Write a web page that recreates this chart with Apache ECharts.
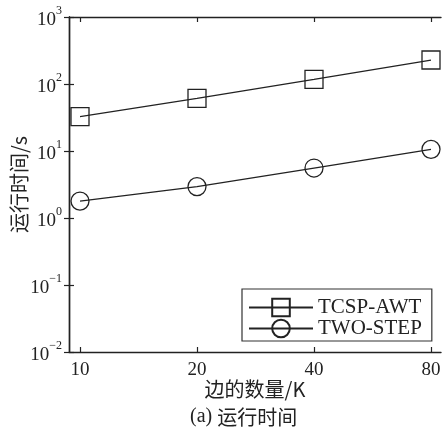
<!DOCTYPE html>
<html>
<head>
<meta charset="utf-8">
<script src="https://cdn.jsdelivr.net/npm/echarts@6/dist/echarts.min.js"></script>
<style>html,body{margin:0;padding:0;background:#fff}#c{width:442px;height:427px}</style>
</head>
<body>
<div id="c"></div>
<script>
const categories = ['10', '20', '40', '80'];
const seriesNames = ['TCSP-AWT', 'TWO-STEP'];
const tcspAwt = [32.5, 61, 117, 228];
const twoStep = [1.79, 2.94, 5.57, 10.6];
const yTicks = [0.01, 0.1, 1, 10, 100, 1000];
const xName = '边的数量/K';
const yName = '运行时间/s';
const captionTag = '(a)';
const captionText = '运行时间';

const SERIF = '"Liberation Serif", "Times New Roman", serif';
const CJK = '"Noto Sans CJK SC", sans-serif';
const INK = '#222';

const chart = echarts.init(document.getElementById('c'));
const frameLine = { show: true, lineStyle: { color: INK, width: 1.4 } };
const option = {
  animation: false,
  backgroundColor: '#fff',
  grid: [
    { left: 80, right: 11, top: 17, bottom: 75, containLabel: false, outerBoundsMode: 'none' },
    { left: 69, right: 1, top: 17, bottom: 75, containLabel: false, outerBoundsMode: 'none' }
  ],
  xAxis: [
    { gridIndex: 0, type: 'category', data: categories, boundaryGap: false,
      axisLine: { show: false },
      axisTick: { show: true, inside: true, length: 5, lineStyle: { color: INK, width: 1.2 } },
      axisLabel: { margin: 9, fontSize: 19, fontFamily: SERIF, color: '#222' },
      splitLine: { show: false } },
    { gridIndex: 0, type: 'category', data: categories, boundaryGap: false, position: 'top',
      axisLine: { show: false },
      axisTick: { show: true, inside: true, length: 5, lineStyle: { color: INK, width: 1.2 } },
      axisLabel: { show: false }, splitLine: { show: false } },
    { gridIndex: 1, type: 'value', min: 0, max: 1, position: 'bottom',
      axisLine: frameLine, axisTick: { show: false }, axisLabel: { show: false }, splitLine: { show: false },
      name: xName, nameLocation: 'middle', nameGap: 27, nameMoveOverlap: false,
      nameTextStyle: { fontSize: 20, fontFamily: CJK, color: '#222', verticalAlign: 'top' } },
    { gridIndex: 1, type: 'value', min: 0, max: 1, position: 'top',
      axisLine: frameLine, axisTick: { show: false }, axisLabel: { show: false }, splitLine: { show: false } }
  ],
  yAxis: [
    { gridIndex: 0, type: 'log', logBase: 10, min: yTicks[0], max: yTicks[yTicks.length - 1], show: false },
    { gridIndex: 1, type: 'log', logBase: 10, min: yTicks[0], max: yTicks[yTicks.length - 1], position: 'left',
      axisLine: frameLine,
      axisTick: { show: true, inside: true, length: 5, lineStyle: { color: INK, width: 1.2 } },
      minorTick: { show: false }, splitLine: { show: false },
      axisLabel: {
        margin: 7,
        formatter: function (v) {
          const e = Math.round(Math.log10(v));
          return '{b|10}{s|' + (e < 0 ? '\u2212' + (-e) : e) + '}';
        },
        rich: {
          b: { fontSize: 19, fontFamily: SERIF, color: '#222', lineHeight: 24, padding: [6, 0, 0, 0] },
          s: { fontSize: 12, fontFamily: SERIF, color: '#222', verticalAlign: 'top', lineHeight: 14 }
        }
      },
      name: yName, nameLocation: 'middle', nameGap: 40, nameRotate: 90, nameMoveOverlap: false,
      nameTextStyle: { fontSize: 20, fontFamily: CJK, color: '#222' } },
    { gridIndex: 1, type: 'log', logBase: 10, min: yTicks[0], max: yTicks[yTicks.length - 1], position: 'right',
      axisLine: frameLine,
      axisTick: { show: true, inside: true, length: 5, lineStyle: { color: INK, width: 1.2 } },
      axisLabel: { show: false }, splitLine: { show: false } }
  ],
  legend: {
    orient: 'vertical', left: 242, top: 289,
    itemWidth: 64, itemHeight: 22, itemGap: 0,
    padding: [8, 10, 2, 6],
    borderColor: '#333', borderWidth: 1.2, backgroundColor: '#fff',
    textStyle: { fontSize: 21, fontFamily: SERIF, color: '#222' },
    data: seriesNames
  },
  title: {
    text: '{a|' + captionTag + '} {c|' + captionText + '}', left: 190, top: 407, padding: 0,
    textStyle: {
      fontWeight: 'normal',
      rich: {
        a: { fontSize: 20, fontFamily: SERIF, fontWeight: 'normal', color: '#222' },
        c: { fontSize: 20, fontFamily: CJK, fontWeight: 'normal', color: '#222' }
      }
    }
  },
  series: [
    { name: seriesNames[0], type: 'line', xAxisIndex: 0, yAxisIndex: 0, data: tcspAwt,
      symbol: 'rect', symbolSize: 18,
      lineStyle: { color: INK, width: 1.3 },
      itemStyle: { color: 'rgba(0,0,0,0)', borderColor: INK, borderWidth: 1.3 } },
    { name: seriesNames[1], type: 'line', xAxisIndex: 0, yAxisIndex: 0, data: twoStep,
      symbol: 'circle', symbolSize: 18,
      lineStyle: { color: INK, width: 1.3 },
      itemStyle: { color: 'rgba(0,0,0,0)', borderColor: INK, borderWidth: 1.3 } }
  ]
};
chart.setOption(option);
</script>
</body>
</html>
